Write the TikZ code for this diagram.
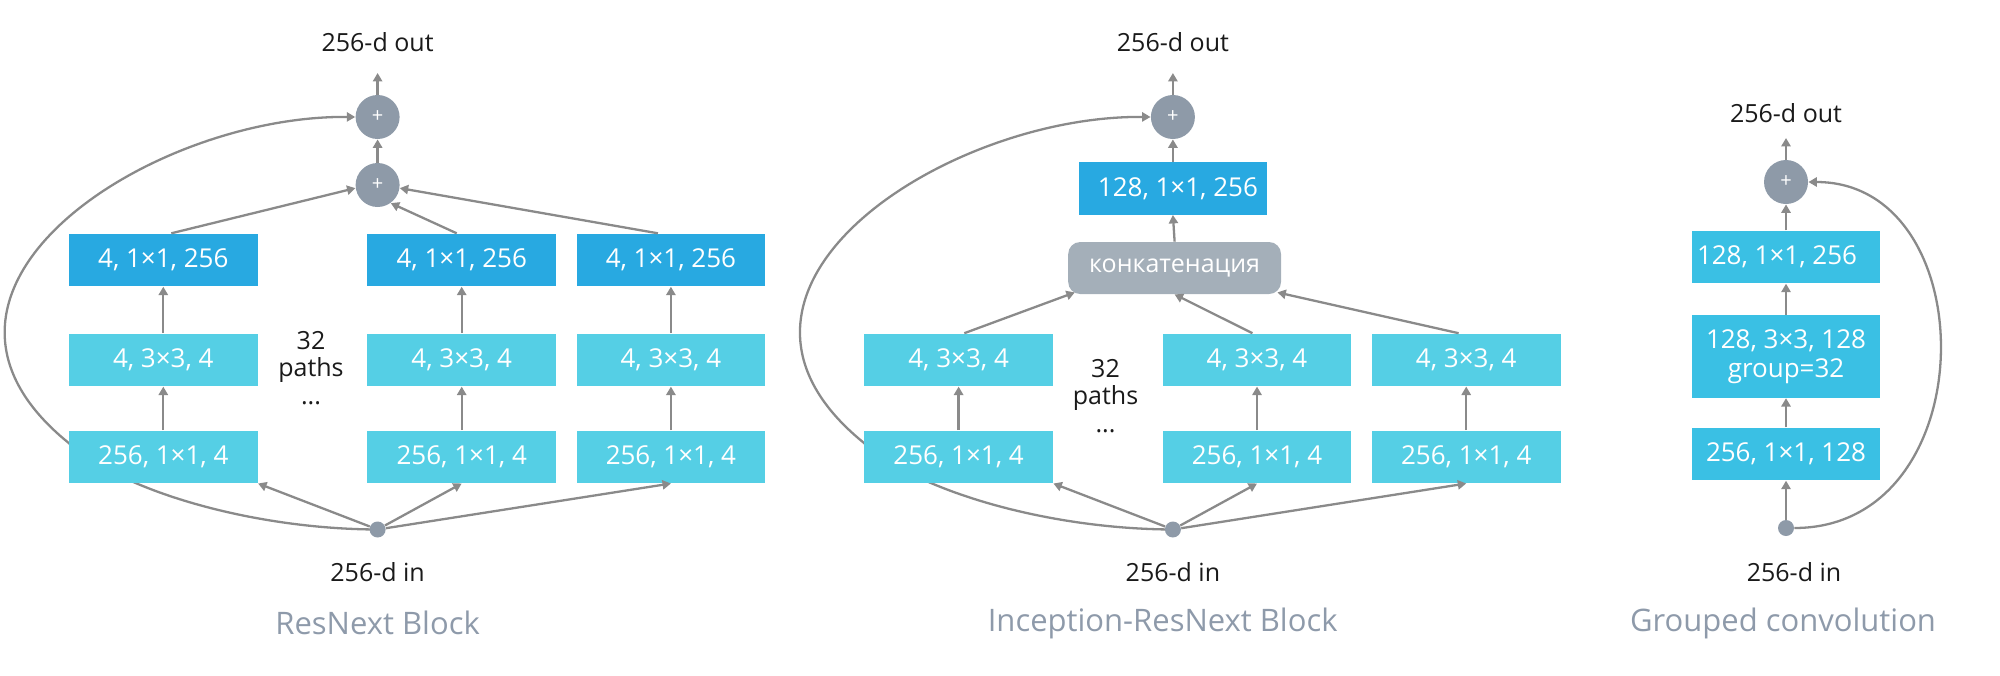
\documentclass[tikz,border=0pt]{standalone}
\usepackage{fontspec}
\setmainfont{Open Sans}
\usetikzlibrary{arrows.meta,calc}
\definecolor{boxdark}{HTML}{28A9E1}
\definecolor{boxlight}{HTML}{55CFE5}
\definecolor{boxmid}{HTML}{3AC0E4}
\definecolor{nodegray}{HTML}{8E9AA8}
\definecolor{concatgray}{HTML}{A4AFB9}
\definecolor{linegray}{HTML}{8A8A8A}
\definecolor{titlegray}{HTML}{8E9AAA}
\definecolor{labelblack}{HTML}{1A1A1A}
\pgfdeclarelayer{bg}
\pgfsetlayers{bg,main}
\begin{document}
\begin{tikzpicture}[x=0.5pt,y=-0.5pt,
  convbox/.style={rectangle, minimum width=94.4pt, minimum height=26.3pt, inner sep=0pt, text=white, font=\fontsize{13}{14.5}\selectfont, align=center},
  boxD/.style={convbox, fill=boxdark},
  boxL/.style={convbox, fill=boxlight},
  boxM/.style={convbox, fill=boxmid},
  concatbox/.style={rectangle, rounded corners=6pt, minimum width=106.4pt, minimum height=26pt, inner sep=0pt, fill=concatgray, text=white, font=\fontsize{12.5}{14}\selectfont},
  sumnode/.style={circle, fill=nodegray, minimum size=22pt, inner sep=0pt, text=white, font=\fontsize{10}{10}\selectfont},
  dotnode/.style={circle, fill=nodegray, minimum size=8pt, inner sep=0pt},
  lbl/.style={text=labelblack, font=\fontsize{12.5}{14}\selectfont},
  ttl/.style={text=titlegray, font=\fontsize{15.5}{18}\selectfont},
  pathtxt/.style={text=labelblack, font=\fontsize{12.5}{14}\selectfont, anchor=base, inner sep=0pt},
  arr/.style={draw=linegray, line width=1.15pt, -{Triangle[length=4.2pt,width=4.6pt]}},
]
\useasboundingbox (0,0) rectangle (2000,675);

% ================= Panel 1: ResNext Block =================
\node[boxD] (a11) at (163.3,260) {4, 1×1, 256};
\node[boxD] (a12) at (461.7,260) {4, 1×1, 256};
\node[boxD] (a13) at (670.9,260) {4, 1×1, 256};
\node[boxL] (a21) at (163.3,359.9) {4, 3×3, 4};
\node[boxL] (a22) at (461.7,359.9) {4, 3×3, 4};
\node[boxL] (a23) at (670.9,359.9) {4, 3×3, 4};
\node[boxL] (a31) at (163.3,456.8) {256, 1×1, 4};
\node[boxL] (a32) at (461.7,456.8) {256, 1×1, 4};
\node[boxL] (a33) at (670.9,456.8) {256, 1×1, 4};
\node[sumnode] (as1) at (377.6,117) {+};
\node[sumnode] (as2) at (377.6,185) {+};
\node[dotnode] (ain) at (377.6,529.5) {};
\node[lbl] (aout) at (377.6,42) {256-d out};
\node[lbl] (ainl) at (377.6,572) {256-d in};
\node[ttl] (atitle) at (377.6,623) {ResNext Block};
\node[pathtxt] (ap1) at (311,349) {32};
\node[pathtxt] (ap2) at (311,376) {paths};
\node[pathtxt] (ap3) at (311,404) {...};
\coordinate (aouttip) at (377.6,73);
\coordinate (abend) at ($(a31.west)+(0,-14)$);

\draw[arr] (as1.north) -- (aouttip);
\draw[arr] (as2.north) -- (as1.south);
\draw[arr] ($(a11.north)+(8,0)$) -- (as2.188);
\draw[arr] ($(a12.north)+(-5,0)$) -- (as2.-54);
\draw[arr] ($(a13.north)+(-13,0)$) -- (as2.-8);
\draw[arr] (a21.north) -- (a11.south);
\draw[arr] (a22.north) -- (a12.south);
\draw[arr] (a23.north) -- (a13.south);
\draw[arr] (a31.north) -- (a21.south);
\draw[arr] (a32.north) -- (a22.south);
\draw[arr] (a33.north) -- (a23.south);
\draw[arr] (ain) -- (a31.south east);
\draw[arr] (ain) -- (a32.south);
\draw[arr] (ain) -- (a33.south);
\begin{pgfonlayer}{bg}
\draw[arr] (ain.center) .. controls (250,529) and (120,490) .. (abend)
  .. controls (-120,290) and (150,115) .. (as1.west);
\end{pgfonlayer}

% ================= Panel 2: Inception-ResNext Block =================
\node[boxL] (b21) at (958.6,359.9) {4, 3×3, 4};
\node[boxL] (b22) at (1257,359.9) {4, 3×3, 4};
\node[boxL] (b23) at (1466.2,359.9) {4, 3×3, 4};
\node[boxL] (b31) at (958.6,456.8) {256, 1×1, 4};
\node[boxL] (b32) at (1257,456.8) {256, 1×1, 4};
\node[boxL] (b33) at (1466.2,456.8) {256, 1×1, 4};
\node[concatbox] (bc) at (1174.6,268) {конкатенация};
\node[boxD] (bt) at (1172.9,188.3) {\hspace*{5pt}128, 1×1, 256};
\node[sumnode] (bs) at (1172.9,117) {+};
\node[dotnode] (bin) at (1172.9,529.5) {};
\node[lbl] (bout) at (1172.9,42) {256-d out};
\node[lbl] (binl) at (1172.9,572) {256-d in};
\node[ttl] (btitle) at (1162.7,623) {Inception-ResNext Block};
\node[pathtxt] (bp1) at (1105.5,377) {32};
\node[pathtxt] (bp2) at (1105.5,404.6) {paths};
\node[pathtxt] (bp3) at (1105.5,432.6) {...};
\coordinate (bouttip) at (1172.9,73);
\coordinate (bbend) at ($(b31.west)+(0,-14)$);

\draw[arr] (bs.north) -- (bouttip);
\draw[arr] (bt.north) -- (bs.south);
\draw[arr] (bc.north) -- (bt.south);
\draw[arr] ($(b21.north)+(5.7,0)$) -- ($(bc.south west)+(7,-2)$);
\draw[arr] ($(b22.north)+(-4.6,0)$) -- (bc.south);
\draw[arr] ($(b23.north)+(-7.6,0)$) -- ($(bc.south east)+(-4,-2)$);
\draw[arr] (b31.north) -- (b21.south);
\draw[arr] (b32.north) -- (b22.south);
\draw[arr] (b33.north) -- (b23.south);
\draw[arr] (bin) -- (b31.south east);
\draw[arr] (bin) -- (b32.south);
\draw[arr] (bin) -- (b33.south);
\begin{pgfonlayer}{bg}
\draw[arr] (bin.center) .. controls (1045.3,529) and (915.3,490) .. (bbend)
  .. controls (675.3,290) and (945.3,115) .. (bs.west);
\end{pgfonlayer}

% ================= Panel 3: Grouped convolution =================
\node[boxM] (c1) at (1786,257) {128, 1×1, 256\hspace*{9pt}};
\node[boxM, minimum height=41.35pt] (c2) at (1786,356.4) {128, 3×3, 128\\group=32};
\node[boxM] (c3) at (1786,454) {256, 1×1, 128};
\node[sumnode] (cs) at (1786,182) {+};
\node[dotnode] (cin) at (1786,528) {};
\node[lbl] (cout) at (1786,113) {256-d out};
\node[lbl] (cinl) at (1794,572) {256-d in};
\node[ttl] (ctitle) at (1783,623) {Grouped convolution};
\coordinate (couttip) at (1786,138);

\draw[arr] (cs.north) -- (couttip);
\draw[arr] (c1.north) -- (cs.south);
\draw[arr] (c2.north) -- (c1.south);
\draw[arr] (c3.north) -- (c2.south);
\draw[arr] (cin) -- (c3.south);
\draw[arr] (cin.east) .. controls (1986,528) and (1986,182) .. (cs.east);
\end{tikzpicture}
\end{document}
